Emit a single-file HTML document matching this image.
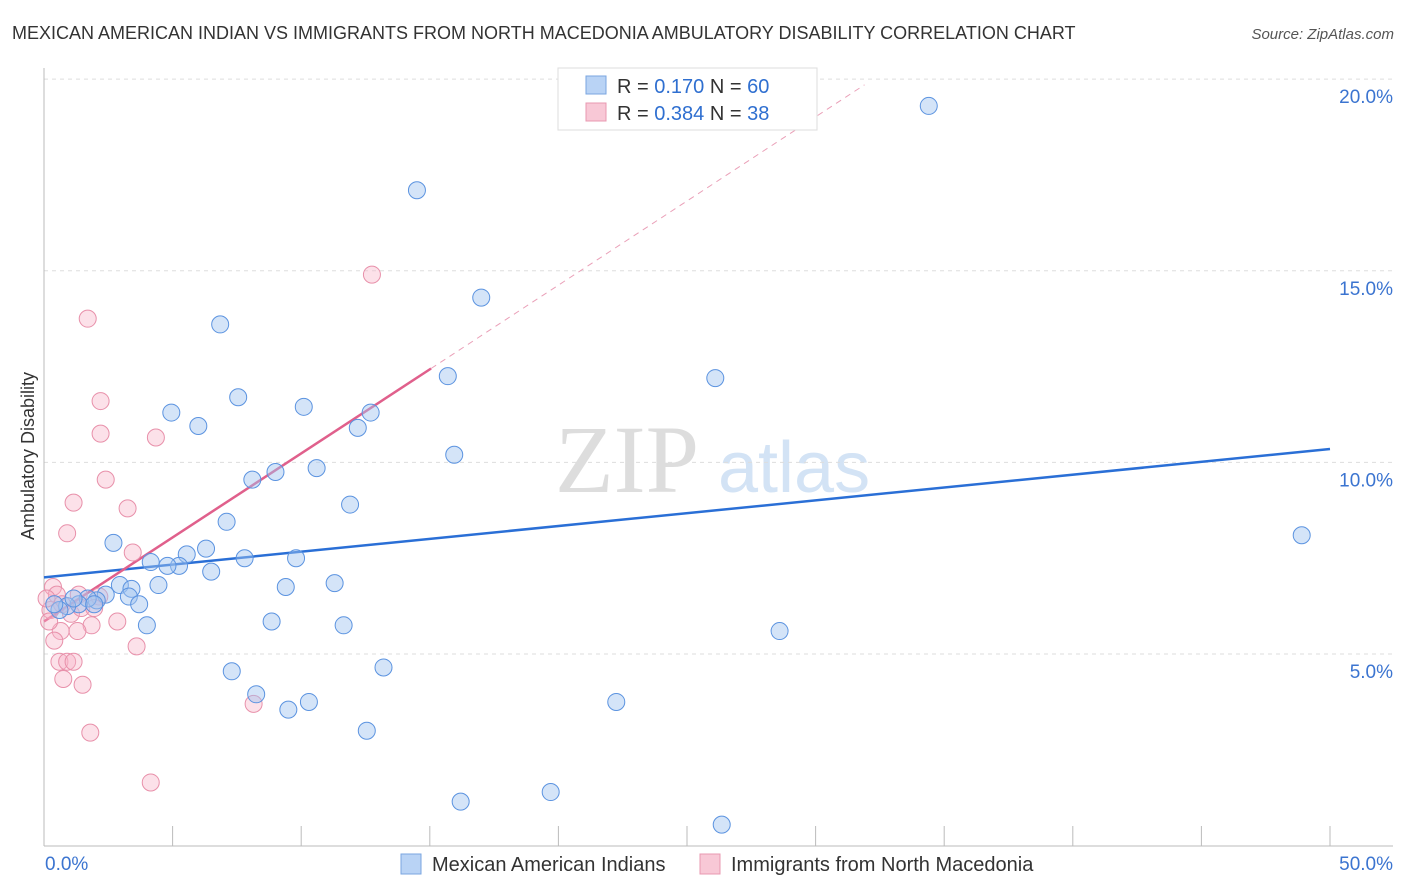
<!DOCTYPE html>
<html><head><meta charset="utf-8">
<style>
body{margin:0;background:#fff;font-family:"Liberation Sans",sans-serif;}
svg{display:block}
</style></head>
<body>
<svg id="chart" width="1406" height="892" viewBox="0 0 1406 892" xmlns="http://www.w3.org/2000/svg">
<text x="12" y="39" font-size="18" fill="#333">MEXICAN AMERICAN INDIAN VS IMMIGRANTS FROM NORTH MACEDONIA AMBULATORY DISABILITY CORRELATION CHART</text>
<text x="1394" y="39" font-size="15" fill="#555" font-style="italic" text-anchor="end">Source: ZipAtlas.com</text>
<text x="34" y="456" font-size="18" fill="#333" text-anchor="middle" transform="rotate(-90 34 456)">Ambulatory Disability</text>
<text x="555" y="492" font-size="96" fill="#ddd" font-family="Liberation Serif,serif">ZIP</text>
<text x="718" y="492" font-size="72" fill="#d3e3f5">atlas</text>
<g id="grid"></g>
<g id="axes"></g>
<g id="trends"></g>
<g id="points"></g>
<g>
<rect x="558" y="68" width="259" height="62" fill="#fff" stroke="#ddd"/>
<rect x="586" y="76" width="20" height="18" fill="#b9d3f5" stroke="#7aa6e0"/>
<rect x="586" y="103" width="20" height="18" fill="#f8c8d6" stroke="#e898b0"/>
<text x="617" y="93" font-size="20" fill="#333">R = <tspan fill="#2f6fd0">0.170</tspan>   N = <tspan fill="#2f6fd0">60</tspan></text>
<text x="617" y="120" font-size="20" fill="#333">R = <tspan fill="#2f6fd0">0.384</tspan>   N = <tspan fill="#2f6fd0"> 38</tspan></text>
</g>
<g>
<rect x="401" y="854" width="20" height="20" fill="#b9d3f5" stroke="#7aa6e0"/>
<text x="432" y="871" font-size="20" fill="#333">Mexican American Indians</text>
<rect x="700" y="854" width="20" height="20" fill="#f8c8d6" stroke="#e898b0"/>
<text x="731" y="871" font-size="20" fill="#333">Immigrants from North Macedonia</text>
</g>
</svg>
<script>
const xTicks=[0,5,10,15,20,25,30,35,40,45,50];
const yTicks=[5,10,15,20];
const blueX=[34.4,14.5,17.0,6.85,15.7,26.1,7.55,4.95,10.1,12.7,6.0,12.2,15.95,10.6,9.0,8.1,11.9,7.1,48.9,2.7,6.3,5.55,9.8,7.8,4.15,5.25,4.8,6.5,2.95,4.45,11.3,3.4,9.4,2.4,3.3,3.7,2.05,1.7,1.35,0.9,0.6,0.4,8.85,11.65,4.0,28.6,13.2,7.3,8.25,10.3,9.5,22.25,12.55,19.7,16.2,26.35,1.95,1.15];
const blueY=[19.3,17.1,14.3,13.6,12.25,12.2,11.7,11.3,11.45,11.3,10.95,10.9,10.2,9.85,9.75,9.55,8.9,8.45,8.1,7.9,7.75,7.6,7.5,7.5,7.4,7.3,7.3,7.15,6.8,6.8,6.85,6.7,6.75,6.55,6.5,6.3,6.4,6.45,6.3,6.25,6.15,6.3,5.85,5.75,5.75,5.6,4.65,4.55,3.95,3.75,3.55,3.75,3.0,1.4,1.15,0.55,6.3,6.45];
const pinkX=[12.75,1.7,2.2,2.2,4.35,2.4,1.15,3.25,0.9,3.45,0.35,0.5,1.35,2.15,0.7,0.25,1.05,1.45,1.95,2.85,1.85,1.3,0.65,0.4,3.6,0.6,0.9,1.15,0.75,1.5,8.15,1.8,4.15,0.1,0.2];
const pinkY=[14.9,13.75,11.6,10.75,10.65,9.55,8.95,8.8,8.15,7.65,6.75,6.55,6.55,6.5,6.3,6.15,6.05,6.2,6.2,5.85,5.75,5.6,5.6,5.35,5.2,4.8,4.8,4.8,4.35,4.2,3.7,2.95,1.65,6.45,5.85];
const blueTrend=[[0,7.0],[50,10.35]];
const pinkTrend=[[0,5.85],[15.05,12.45]];
const pinkDash=[[15.05,12.45],[31.9,19.85]];

const X=v=>44+v*25.72;
const Y=v=>845.7-v*38.33;
const NS='http://www.w3.org/2000/svg';
function mk(tag,attrs,parent){const e=document.createElementNS(NS,tag);for(const k in attrs)e.setAttribute(k,attrs[k]);document.getElementById(parent).appendChild(e);return e;}

yTicks.forEach(t=>{
  const l=mk('line',{x1:44,x2:1393,y1:Y(t),y2:Y(t),stroke:'#ddd','stroke-dasharray':'4,4'},'grid');
  
  
  const tx=mk('text',{x:1393,y:Y(t)+24,'font-size':19,fill:'#3b74d0','text-anchor':'end'},'grid');
  tx.textContent=t.toFixed(1)+'%';
  
  
});
const ax=mk('line',{x1:44,x2:44,y1:68,y2:846,stroke:'#bbb'},'axes');


const bx=mk('line',{x1:44,x2:1393,y1:846,y2:846,stroke:'#bbb'},'axes');


xTicks.forEach((t,i)=>{
  if(i===0)return;
  const l=mk('line',{x1:X(t),x2:X(t),y1:826,y2:846,stroke:'#bbb'},'axes');
  
  
});
[[0,'start'],[50,'end']].forEach(([t,a])=>{
  const tx=mk('text',{x:t===0?45:1393,y:870,'font-size':19,fill:'#3b74d0','text-anchor':a},'axes');
  tx.textContent=t.toFixed(1)+'%';
  
  
});

const bt=mk('line',{x1:X(blueTrend[0][0]),y1:Y(blueTrend[0][1]),x2:X(blueTrend[1][0]),y2:Y(blueTrend[1][1]),stroke:'#2a6fd6','stroke-width':2.5},'trends');


const pt=mk('line',{x1:X(pinkTrend[0][0]),y1:Y(pinkTrend[0][1]),x2:X(pinkTrend[1][0]),y2:Y(pinkTrend[1][1]),stroke:'#e0608c','stroke-width':2.5},'trends');


const pd=mk('line',{x1:X(pinkDash[0][0]),y1:Y(pinkDash[0][1]),x2:X(pinkDash[1][0]),y2:Y(pinkDash[1][1]),stroke:'#eaa0b8','stroke-width':1,'stroke-dasharray':'6,5'},'trends');



pinkX.forEach((v,i)=>{
  const c=mk('circle',{cx:X(v),cy:Y(pinkY[i]),r:8.5,fill:'rgba(248,180,200,0.4)',stroke:'#e890aa','stroke-width':1},'points');
  
  
});
blueX.forEach((v,i)=>{
  const c=mk('circle',{cx:X(v),cy:Y(blueY[i]),r:8.5,fill:'rgba(160,195,240,0.45)',stroke:'#5b93e0','stroke-width':1},'points');
  
  
});
</script>
</body></html>
